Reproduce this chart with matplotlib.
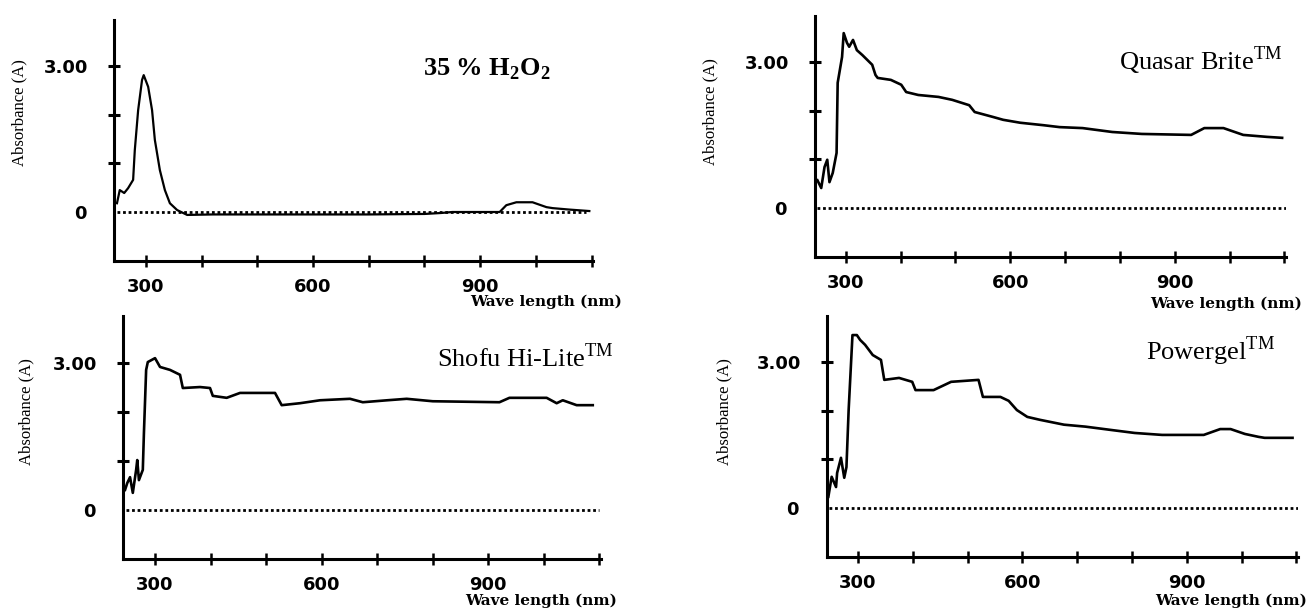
import matplotlib
matplotlib.use("Agg")
import matplotlib.pyplot as plt

# --- data (nm, absorbance) ---
h2o2_nm = [248, 253, 261, 268, 277, 280, 286, 293, 296, 304, 311, 316, 325, 334, 343, 356, 374,
           420, 500, 600, 700, 800, 830, 850, 900, 935, 947, 965, 994, 1019, 1030, 1060, 1096]
h2o2_abs = [0.18, 0.45, 0.39, 0.49, 0.66, 1.27, 2.09, 2.71, 2.81, 2.57, 2.09, 1.48, 0.86, 0.45, 0.18, 0.04, -0.06,
            -0.05, -0.05, -0.05, -0.05, -0.04, -0.02, 0.0, 0.0, 0.0, 0.14, 0.20, 0.20, 0.10, 0.08, 0.05, 0.02]

quasar_nm = [248, 255, 261, 266, 270, 276, 283, 285, 293, 296, 302, 306, 313, 320, 330, 339, 348, 354, 358,
             382, 401, 410, 432, 469, 494, 525, 535, 568, 587, 618, 660, 690, 732, 786, 840, 930, 954, 989,
             1025, 1068, 1096]
quasar_abs = [0.57, 0.41, 0.84, 0.99, 0.53, 0.72, 1.13, 2.57, 3.10, 3.59, 3.39, 3.31, 3.45, 3.24, 3.14, 3.04, 2.94, 2.73, 2.67,
              2.63, 2.53, 2.38, 2.32, 2.28, 2.22, 2.11, 1.97, 1.87, 1.81, 1.75, 1.70, 1.66, 1.64, 1.56, 1.52, 1.50, 1.64, 1.64,
              1.50, 1.46, 1.44]

shofu_nm = [246, 250, 255, 260, 266, 268, 271, 278, 280, 284, 287, 300, 309, 327, 345, 350, 381, 399, 404,
            429, 453, 516, 528, 561, 597, 651, 674, 718, 753, 800, 920, 938, 1005, 1023, 1034, 1059, 1088]
shofu_abs = [0.41, 0.55, 0.67, 0.35, 0.82, 1.02, 0.61, 0.82, 1.57, 2.86, 3.02, 3.10, 2.92, 2.86, 2.76, 2.49, 2.51, 2.49, 2.33,
             2.29, 2.39, 2.39, 2.14, 2.18, 2.24, 2.27, 2.20, 2.24, 2.27, 2.22, 2.20, 2.29, 2.29, 2.18, 2.24, 2.14, 2.14]

powergel_nm = [246, 252, 260, 262, 269, 275, 279, 283, 290, 298, 304, 313, 327, 342, 348, 375, 399, 405, 438,
               470, 520, 528, 560, 575, 590, 609, 632, 676, 715, 763, 805, 855, 931, 961, 980, 1006, 1031, 1042, 1093]
powergel_abs = [0.23, 0.64, 0.43, 0.72, 1.03, 0.62, 0.84, 2.01, 3.55, 3.55, 3.45, 3.35, 3.14, 3.04, 2.63, 2.67, 2.59, 2.42, 2.42,
                2.59, 2.63, 2.28, 2.28, 2.20, 2.01, 1.87, 1.81, 1.71, 1.67, 1.60, 1.54, 1.50, 1.50, 1.62, 1.62, 1.52, 1.46, 1.44, 1.44]

titles = ["35 % H$_\\mathrm{2}$O$_\\mathrm{2}$",
          "Quasar Brite$^{\\mathregular{TM}}$",
          "Shofu Hi-Lite$^{\\mathregular{TM}}$",
          "Powergel$^{\\mathregular{TM}}$"]
baseline_start = 248
baseline_end = [1090, 1104, 1100, 1104]

x_major = [300, 600, 900]
x_minor = [400, 500, 700, 800, 1000, 1100]
y_major = [1, 2, 3]
y_labels = ["", "", "3.00"]

W, H = 1311, 611


def px(x, y):
    # pixel (from top-left) -> figure fraction
    return x / W, 1 - y / H


def setup_axes(ax):
    ax.set_xlim(243, 1103)
    ax.set_ylim(-1, 3.95)
    for s in ["top", "right"]:
        ax.spines[s].set_visible(False)
    for s in ["left", "bottom"]:
        ax.spines[s].set_linewidth(2.2)
    ax.set_xticks(x_major)
    ax.set_xticklabels([str(v) for v in x_major])
    ax.set_xticks(x_minor, minor=True)
    ax.set_yticks(y_major)
    ax.set_yticklabels(y_labels)
    ax.set_yticks([0], minor=True)
    ax.set_yticklabels(["0"], minor=True)
    ax.tick_params(axis="x", which="both", direction="inout", length=9, width=1.8, pad=8)
    ax.tick_params(axis="y", which="major", direction="inout", length=9, width=2.2, pad=14)
    ax.tick_params(axis="y", which="minor", length=0, pad=20)
    for lab in ax.get_xticklabels() + ax.get_yticklabels() + ax.get_yticklabels(minor=True):
        lab.set_fontfamily("DejaVu Sans")
        lab.set_fontweight("bold")
        lab.set_fontsize(13)


def main():
    plt.rcParams["mathtext.fontset"] = "custom"
    plt.rcParams["mathtext.rm"] = "Liberation Serif:bold"
    fig = plt.figure(figsize=(W / 100, H / 100), dpi=100)

    rects = [[0.0871, 0.5733, 0.3654, 0.3946],
             [0.6214, 0.5799, 0.3595, 0.3946],
             [0.0941, 0.0851, 0.3644, 0.3969],
             [0.6306, 0.0889, 0.3595, 0.3946]]
    series = [(h2o2_nm, h2o2_abs), (quasar_nm, quasar_abs),
              (shofu_nm, shofu_abs), (powergel_nm, powergel_abs)]
    title_pos = [(487, 75), (1201, 70), (525, 367), (1211, 360)]
    ylab_pos = [(19, 113), (710, 112), (26, 412), (724, 412)]
    wl_pos = [(622, 302), (1302, 304), (617, 601), (1307, 601)]

    for i in range(4):
        ax = fig.add_axes(rects[i])
        setup_axes(ax)
        ax.hlines(0, baseline_start, baseline_end[i], colors="black",
                  linewidth=2.0, linestyles=(0, (1, 1)))
        nm, ab = series[i]
        ax.plot(nm, ab, color="black", linewidth=1.9 if i else 1.6, solid_joinstyle="round")

        tx, ty = px(*title_pos[i])
        fig.text(tx, ty, titles[i], ha="center", va="baseline", fontsize=19,
                 family="Liberation Serif", fontweight="bold" if i == 0 else "normal")
        lx, ly = px(*ylab_pos[i])
        fig.text(lx, ly, "Absorbance (A)", rotation=90, ha="center", va="center",
                 fontsize=12, family="Liberation Serif")
        wx, wy = px(*wl_pos[i])
        fig.text(wx, wy, "Wave length (nm)", ha="right", va="center",
                 fontsize=11, family="DejaVu Serif", fontweight="bold")

    plt.savefig("out.png", dpi=100)


if __name__ == "__main__":
    main()
